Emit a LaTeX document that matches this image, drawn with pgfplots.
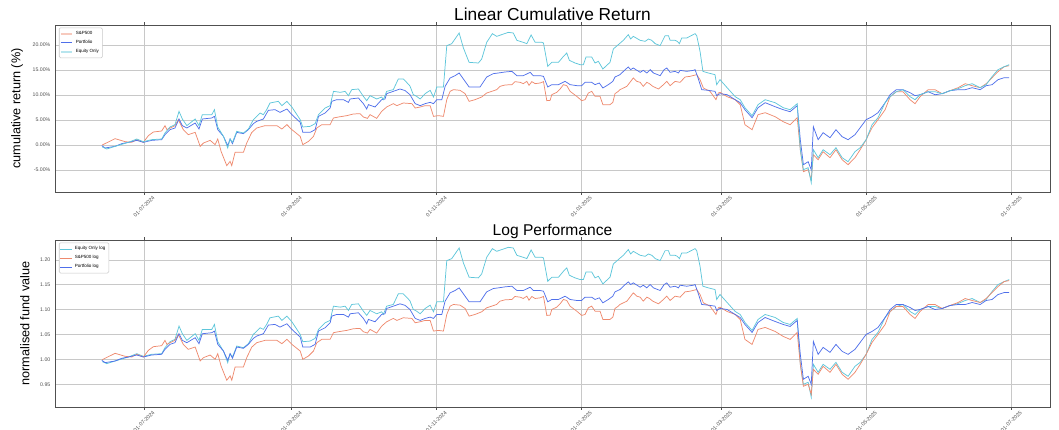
\documentclass[border=0pt]{standalone}
\usepackage{fontspec}
\setmainfont{Liberation Sans}
\usepackage{pgfplots}
\pgfplotsset{compat=1.18}
\usepackage{pgfplotstable}
\definecolor{spc}{HTML}{EE8A6E}
\definecolor{pfc}{HTML}{4F6FEA}
\definecolor{eqc}{HTML}{5EC6DA}
\definecolor{gridc}{HTML}{C8C8C8}
\definecolor{axc}{HTML}{505050}

% day offset from 01-07-2024, cumulative return in %
\pgfplotstableread{
d v
-17.6 0.00
-12.2 1.27
-8.0 0.67
-5.2 0.53
-3.1 1.07
-0.3 0.53
1.8 1.87
3.9 2.60
7.4 2.80
8.8 3.87
9.6 3.07
13.0 3.87
14.4 5.07
16.5 3.07
18.6 2.07
21.5 2.53
23.6 -0.27
25.0 0.40
27.8 0.93
29.9 0.07
31.0 1.20
32.4 -1.27
34.8 -4.13
36.2 -3.27
36.9 -4.13
38.3 -1.47
41.8 -1.47
43.2 0.40
45.3 2.50
47.4 3.40
50.9 3.87
55.9 3.87
58.0 3.20
60.1 4.07
62.2 3.07
65.7 1.73
66.8 0.07
69.2 0.73
71.3 1.73
72.7 3.40
74.8 4.07
78.3 4.07
79.7 5.40
81.8 5.60
85.3 5.87
88.1 6.20
90.9 6.27
92.3 5.60
94.0 5.33
95.1 6.07
97.9 5.33
100.0 6.73
102.1 7.60
104.9 8.27
106.4 7.87
109.1 8.40
112.7 8.27
114.1 7.40
116.2 7.60
118.3 7.87
120.4 7.87
121.8 5.73
123.9 5.87
126.0 5.73
127.4 9.07
128.8 10.73
130.2 11.07
133.0 10.93
135.1 10.27
136.8 8.73
139.3 9.07
142.1 9.60
144.2 10.40
146.3 10.73
148.4 11.07
149.8 11.73
151.9 12.00
154.8 12.07
156.1 12.67
158.3 12.53
159.6 12.27
161.1 12.73
162.0 11.93
163.2 12.67
164.6 12.27
166.7 12.40
168.1 12.67
169.5 8.87
170.9 8.93
171.6 10.07
173.7 10.53
175.1 11.20
176.5 12.07
177.9 11.87
179.3 10.73
182.1 9.73
184.2 8.87
185.6 9.07
187.0 10.40
188.4 10.73
189.8 9.73
191.9 9.73
193.1 8.07
196.1 8.07
197.3 8.53
198.2 10.27
199.6 10.73
200.3 11.07
203.2 11.73
205.9 13.40
207.4 12.73
208.8 12.53
210.1 11.73
211.6 12.53
212.7 12.27
214.1 11.73
216.5 11.20
218.6 12.07
220.0 12.73
221.4 11.87
223.5 12.73
225.6 12.53
227.7 13.60
229.8 13.73
232.6 14.07
234.0 13.07
235.4 11.40
238.2 10.73
240.7 9.07
241.7 10.40
242.4 10.53
245.4 9.66
248.8 9.06
250.9 8.06
252.9 4.06
255.9 3.06
258.4 6.06
261.4 6.46
265.6 5.66
269.0 4.66
271.9 4.06
274.9 5.46
276.2 -0.94
277.5 -5.34
279.5 -4.94
280.8 -6.94
281.7 -1.94
283.7 -2.94
285.8 -1.34
288.7 -2.54
291.2 -0.94
293.8 -2.94
296.3 -3.94
299.2 -2.54
301.4 -0.94
303.9 1.06
306.4 3.46
308.9 5.06
311.9 7.06
314.0 9.66
316.6 10.66
319.4 10.66
322.4 9.06
324.5 8.26
326.6 9.66
330.0 11.06
332.9 11.06
335.9 10.26
339.2 10.86
342.6 11.46
345.6 12.26
348.5 11.86
351.9 11.46
354.4 12.26
356.9 13.46
359.4 14.66
362.0 15.66
364.1 15.86
}\tabsp

\pgfplotstableread{
d v
-17.8 -0.13
-16.4 -0.60
-12.2 -0.27
-9.4 0.27
-6.6 0.53
-3.1 0.93
-0.3 0.53
3.2 0.93
7.4 1.07
8.8 2.07
10.9 3.07
13.0 3.40
14.7 5.20
16.1 3.87
18.0 3.40
21.5 4.40
23.1 3.20
24.5 5.20
28.5 5.40
29.6 5.73
31.0 3.07
33.4 1.73
35.2 -0.13
36.2 1.20
37.2 0.27
39.0 2.53
41.8 2.27
43.9 3.07
46.0 4.27
47.4 4.73
50.2 5.20
52.3 6.93
55.1 7.07
57.2 6.53
60.1 7.20
62.2 6.07
65.7 4.53
66.8 2.53
69.9 2.53
72.0 3.07
73.4 5.73
76.2 6.40
78.3 7.40
79.0 8.73
81.1 9.07
83.9 9.07
86.0 8.53
86.7 9.20
90.2 9.40
92.3 8.27
93.7 7.20
94.4 8.07
97.2 7.60
100.0 9.07
101.4 9.20
102.1 10.27
104.9 10.73
107.7 11.20
109.8 10.90
111.9 10.07
114.1 8.27
116.2 7.87
118.3 8.27
120.4 8.53
121.8 8.27
123.2 9.07
125.3 9.07
126.7 11.73
128.8 13.40
130.9 13.87
132.6 14.40
135.1 12.73
136.8 11.60
141.4 11.60
144.2 13.60
147.0 14.27
149.1 14.40
151.9 14.60
154.8 14.73
156.9 13.87
159.6 13.87
162.5 14.53
163.8 13.87
166.7 13.87
168.1 13.73
169.9 11.60
171.6 12.07
174.4 12.07
177.2 12.73
179.3 12.07
182.1 11.87
184.2 11.87
185.6 12.53
188.4 12.53
189.8 12.07
191.6 12.40
193.1 11.40
195.4 12.07
197.3 12.73
198.2 13.60
200.3 14.07
202.5 15.07
203.8 15.60
204.8 15.07
205.9 15.40
208.8 14.53
210.1 14.93
211.6 14.40
213.0 15.07
214.4 14.40
217.2 13.87
218.9 15.07
220.0 15.40
221.4 14.53
223.5 14.73
224.9 14.40
225.6 14.93
228.4 14.73
231.2 14.93
231.9 15.07
233.3 13.20
234.7 11.07
237.5 10.93
240.3 10.73
241.0 9.87
242.4 10.27
245.4 10.06
248.8 9.06
250.9 8.46
252.9 7.06
255.9 5.46
258.4 7.46
261.4 8.46
265.6 7.66
269.0 7.06
271.9 6.66
274.9 7.86
276.2 1.06
277.5 -3.94
279.5 -3.34
280.8 -4.94
281.7 3.66
283.7 1.06
285.8 2.46
288.7 1.46
291.2 3.06
293.8 1.66
296.3 1.06
299.2 2.06
301.4 3.46
303.9 5.06
306.4 5.66
308.9 6.46
311.9 8.46
314.0 10.06
316.6 11.06
319.4 11.06
322.4 10.46
324.5 9.86
326.6 10.06
330.0 10.66
332.9 10.06
335.9 10.26
339.2 10.86
342.6 11.06
345.6 11.06
348.5 11.46
351.9 11.06
354.4 11.86
356.9 12.06
359.4 13.06
362.0 13.46
364.1 13.46
}\tabpf

\pgfplotstableread{
d v
-17.6 -0.40
-15.7 -0.80
-12.2 -0.27
-6.6 0.53
-3.1 1.20
-0.3 0.67
3.2 1.07
7.4 1.20
8.8 2.40
10.9 3.60
13.0 4.07
14.7 6.73
16.1 5.20
18.0 3.87
21.5 5.20
23.1 3.87
24.5 6.07
28.5 6.07
29.6 7.07
31.0 3.60
33.4 1.73
35.2 -0.60
36.2 1.20
37.2 0.53
39.0 2.73
41.8 2.40
43.9 3.20
46.0 5.07
47.4 5.73
48.8 6.40
50.2 6.07
51.6 7.07
53.0 8.40
56.5 8.73
58.0 7.87
60.1 8.73
62.2 7.60
65.7 5.07
66.8 3.60
69.9 3.73
72.0 4.27
73.4 6.07
76.2 7.40
78.3 7.87
79.7 10.73
82.6 10.53
84.6 10.73
86.0 9.87
87.4 11.07
90.2 11.20
92.3 9.73
93.7 8.87
95.1 9.87
97.9 9.20
100.0 9.60
100.7 9.07
102.1 10.73
104.9 11.07
107.0 13.20
109.1 13.20
110.5 12.53
111.9 11.80
113.3 10.07
114.7 9.73
116.2 9.20
118.3 10.27
120.4 10.93
121.8 9.60
123.2 11.60
126.0 11.60
127.4 19.87
129.5 20.27
132.6 22.40
134.4 19.40
136.8 16.53
140.7 16.40
142.1 17.20
144.2 20.53
146.6 22.27
148.4 21.73
150.5 22.07
153.3 22.53
155.4 22.40
156.9 20.93
159.6 20.53
161.1 20.27
162.9 22.00
164.6 20.53
167.4 20.53
168.1 20.40
169.9 15.73
171.6 16.53
174.4 16.53
176.5 17.73
177.9 18.40
179.0 16.93
181.4 16.40
183.5 16.07
184.9 16.07
186.0 17.60
188.4 17.60
189.8 16.40
191.2 16.73
193.1 15.20
196.1 16.53
197.5 19.20
199.6 20.07
201.7 20.93
203.8 22.07
204.8 21.20
205.9 21.73
208.8 20.93
210.9 20.73
212.3 21.20
213.7 20.93
215.1 20.27
217.2 19.87
219.3 21.87
220.7 21.87
221.4 20.93
223.5 20.93
224.4 20.73
225.3 20.27
226.3 21.40
228.4 21.40
231.9 22.27
232.6 21.87
234.0 18.73
235.2 14.73
237.5 14.40
240.3 14.07
241.0 12.07
242.4 13.07
245.4 11.46
248.8 9.66
250.9 9.06
252.9 7.46
255.9 5.86
258.4 8.06
261.4 9.06
265.6 8.46
269.0 7.46
271.9 7.06
274.9 8.26
276.2 -0.94
277.5 -4.94
279.5 -4.54
280.8 -7.54
281.7 -0.94
283.7 -2.54
285.8 -0.94
288.7 -1.94
291.2 -0.54
293.8 -2.54
296.3 -3.34
299.2 -1.34
301.4 -0.54
303.9 1.06
306.4 4.06
308.9 5.46
311.9 8.46
314.0 9.66
316.6 10.66
319.4 11.06
322.4 9.66
324.5 9.06
326.6 10.06
330.0 10.66
332.9 10.66
335.9 10.26
339.2 10.86
342.6 11.26
345.6 11.86
348.5 12.26
351.9 11.46
354.4 12.06
356.9 13.66
359.4 15.06
362.0 15.66
364.1 16.06
}\tabeq

\pgfplotsset{
  common/.style={
    scale only axis, width=746.25pt, height=125.25pt,
    xmin=-37.5, xmax=381.3,
    xtick={0,62,123,184,243,304,365},
    xticklabels={01-07-2024,01-09-2024,01-11-2024,01-01-2025,01-03-2025,01-05-2025,01-07-2025},
    xticklabel style={yshift=-8.5pt, rotate=45, anchor=center, font=\fontsize{4}{4.5}\selectfont, text=axc},
    yticklabel style={font=\fontsize{3.9}{4.5}\selectfont, text=axc},
    grid=major, major grid style={gridc, line width=0.6pt},
    axis line style={axc, line width=0.6pt},
    xtick align=outside, major tick length=2.2pt,
    xtick style={axc, line width=0.5pt},
    ytick style={draw=none},
    /pgf/number format/assume math mode=true,
    ylabel style={font=\fontsize{9.5}{11}\selectfont, at={(axis description cs:-0.0382,0.5)}, anchor=center, rotate=0},
    legend style={font=\fontsize{3.4}{4}\selectfont, at={(0.004,0.985)}, anchor=north west,
      draw=gridc, rounded corners=1pt, inner sep=0.6pt, row sep=-1.2pt, fill=white},
    legend cell align=left,
    legend image code/.code={\draw[#1] (0cm,0cm) -- (0.3cm,0cm);},
    every axis plot/.append style={line width=0.55pt},
  }
}

\begin{document}
\begin{tikzpicture}
\useasboundingbox (0,0) rectangle (794.25pt,321.75pt);
% top panel
\begin{axis}[common, at={(41.25pt,177.75pt)}, anchor=south west,
  ymin=-9.4, ymax=24,
  ytick={-5,0,5,10,15,20},
  yticklabel={\pgfmathprintnumber[fixed,fixed zerofill,precision=2]{\tick}\%},
  title={Linear Cumulative Return},
  title style={font=\fontsize{13}{15}\selectfont, at={(axis description cs:0.5,1)}, anchor=south, inner sep=0pt, yshift=-3pt},
  ylabel={cumulative return (\%)},
]
\addlegendimage{spc!45, line width=1.3pt}\addlegendentry{S\&P500}
\addlegendimage{pfc, line width=0.5pt}\addlegendentry{Portfolio}
\addlegendimage{eqc!45, line width=1.3pt}\addlegendentry{Equity Only}
\addplot[spc, forget plot] table[x=d, y=v] {\tabsp};
\addplot[pfc, forget plot] table[x=d, y=v] {\tabpf};
\addplot[eqc, forget plot] table[x=d, y=v] {\tabeq};
\end{axis}
% bottom panel
\begin{axis}[common, at={(41.25pt,16.5pt)}, anchor=south west,
  ymin=0.905, ymax=1.24,
  ytick={0.95,1.00,1.05,1.10,1.15,1.20},
  yticklabel={\pgfmathprintnumber[fixed,fixed zerofill,precision=2]{\tick}},
  title={Log Performance},
  title style={font=\fontsize{11.7}{13}\selectfont, at={(axis description cs:0.5,1)}, anchor=south, inner sep=0pt, yshift=-5pt},
  ylabel={normalised fund value},
  ylabel style={at={(axis description cs:-0.0302,0.5)}},
]
\addplot[eqc] table[x=d, y expr=1+\thisrow{v}/100] {\tabeq};
\addlegendentry{Equity Only log}
\addplot[spc] table[x=d, y expr=1+\thisrow{v}/100] {\tabsp};
\addlegendentry{S\&P500 log}
\addplot[pfc] table[x=d, y expr=1+\thisrow{v}/100] {\tabpf};
\addlegendentry{Portfolio log}
\end{axis}
\end{tikzpicture}
\end{document}
